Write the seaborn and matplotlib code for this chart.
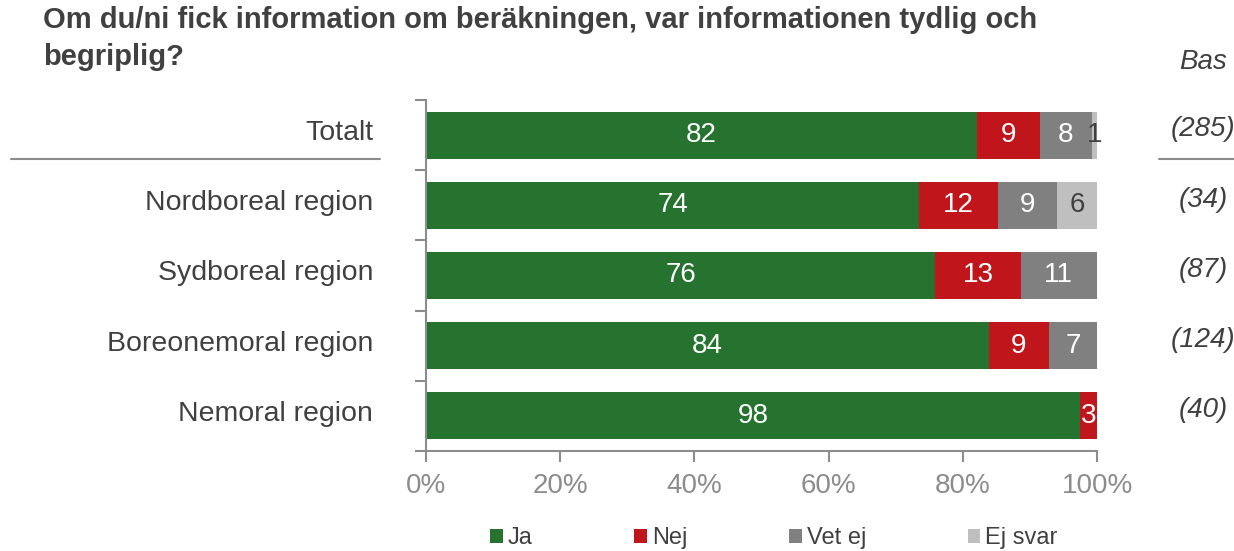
import pandas as pd
import matplotlib.pyplot as plt
import seaborn as sns
from matplotlib.patches import Patch
from matplotlib.lines import Line2D
from matplotlib.transforms import blended_transform_factory, ScaledTranslation

# data (percent per answer)
regions = ['Totalt', 'Nordboreal region', 'Sydboreal region', 'Boreonemoral region', 'Nemoral region']
bases = ['(285)', '(34)', '(87)', '(124)', '(40)']
answers = ['Ja', 'Nej', 'Vet ej', 'Ej svar']
ja = [82.1, 73.5, 75.9, 83.9, 97.5]
nej = [9.4, 11.8, 12.7, 8.9, 2.5]
vet_ej = [7.7, 8.8, 11.4, 7.2, 0.0]
ej_svar = [0.8, 5.9, 0.0, 0.0, 0.0]

colors = ['#267330', '#C0161B', '#808080', '#BFBFBF']
label_colors = ['white', 'white', 'white', '#404040']
dark = '#404040'
axis_grey = '#8C8C8C'

df = pd.DataFrame({'region': regions, 'Ja': ja, 'Nej': nej, 'Vet ej': vet_ej, 'Ej svar': ej_svar})
cum = df[answers].cumsum(axis=1)

sns.set_theme(style="white")
plt.rcParams['font.family'] = ['Liberation Sans', 'DejaVu Sans']

fig = plt.figure(figsize=(12.34, 5.51), dpi=100)
ax = fig.add_axes([426 / 1234, 1 - 451 / 551, 671 / 1234, 351 / 551])

# stacked bars: draw cumulative widths, widest first
for ans, col in reversed(list(zip(answers, colors))):
    sns.barplot(x=cum[ans], y=df['region'], orient='h', color=col, saturation=1,
                width=0.67, linewidth=0, ax=ax)

# segment labels
for i in range(len(regions)):
    left = 0
    for ans, lc in zip(answers, label_colors):
        v = df[ans][i]
        if v > 0:
            ax.text(left + v / 2, i, str(int(v + 0.5)), ha='center', va='center',
                    color=lc, fontsize=20)
        left += v

ax.set_xlim(0, 100)
ax.set_ylim(4.5, -0.5)
ax.set_xlabel('')
ax.set_ylabel('')

ax.set_xticks(range(0, 101, 20))
ax.set_xticklabels([f'{t}%' for t in range(0, 101, 20)])
ax.tick_params(axis='x', length=8, width=1.5, color=axis_grey, labelcolor=axis_grey,
               labelsize=20, pad=8, bottom=True)

ax.set_yticks(range(len(regions)))
ax.set_yticklabels(regions)
ax.set_yticks([k - 0.5 for k in range(len(regions) + 1)], minor=True)
ax.tick_params(axis='y', which='major', length=0, labelsize=20.5, labelcolor=dark, pad=38)
ax.tick_params(axis='y', which='minor', length=8, width=1.5, color=axis_grey, left=True)
shift_up = ScaledTranslation(0, 5 / 100, fig.dpi_scale_trans)
for lab in ax.get_yticklabels():
    lab.set_transform(lab.get_transform() + shift_up)

for side in ['top', 'right']:
    ax.spines[side].set_visible(False)
for side in ['left', 'bottom']:
    ax.spines[side].set_color(axis_grey)
    ax.spines[side].set_linewidth(1.5)

# title and base column
fig.text(43 / 1234, 1 - 6 / 551,
         'Om du/ni fick information om beräkningen, var informationen tydlig och\nbegriplig?',
         ha='left', va='top', fontsize=21, fontweight='bold', color=dark, linespacing=1.4)
fig.text(1203 / 1234, 1 - 62 / 551, 'Bas', ha='center', va='center', fontsize=20,
         style='italic', color=dark)
tr = blended_transform_factory(fig.transFigure, ax.transData)
for i, b in enumerate(bases):
    ax.text(1203 / 1234, i - 0.08, b, transform=tr, ha='center', va='center',
            fontsize=20, style='italic', color=dark, clip_on=False)

# separator lines under Totalt
y_line = 1 - 159 / 551
fig.add_artist(Line2D([11 / 1234, 380 / 1234], [y_line, y_line], color=axis_grey, lw=1.5))
fig.add_artist(Line2D([1159 / 1234, 1.0], [y_line, y_line], color=axis_grey, lw=1.5))

# legend
handles = [Patch(facecolor=c, edgecolor='none', label=a) for a, c in zip(answers, colors)]
fig.legend(handles=handles, loc='center', bbox_to_anchor=(774 / 1234, 1 - 538 / 551),
           ncol=4, frameon=False, fontsize=17, handlelength=0.54, handleheight=0.54,
           handletextpad=0.21, columnspacing=4.3, labelcolor=dark)

fig.savefig('out.png', dpi=100)
